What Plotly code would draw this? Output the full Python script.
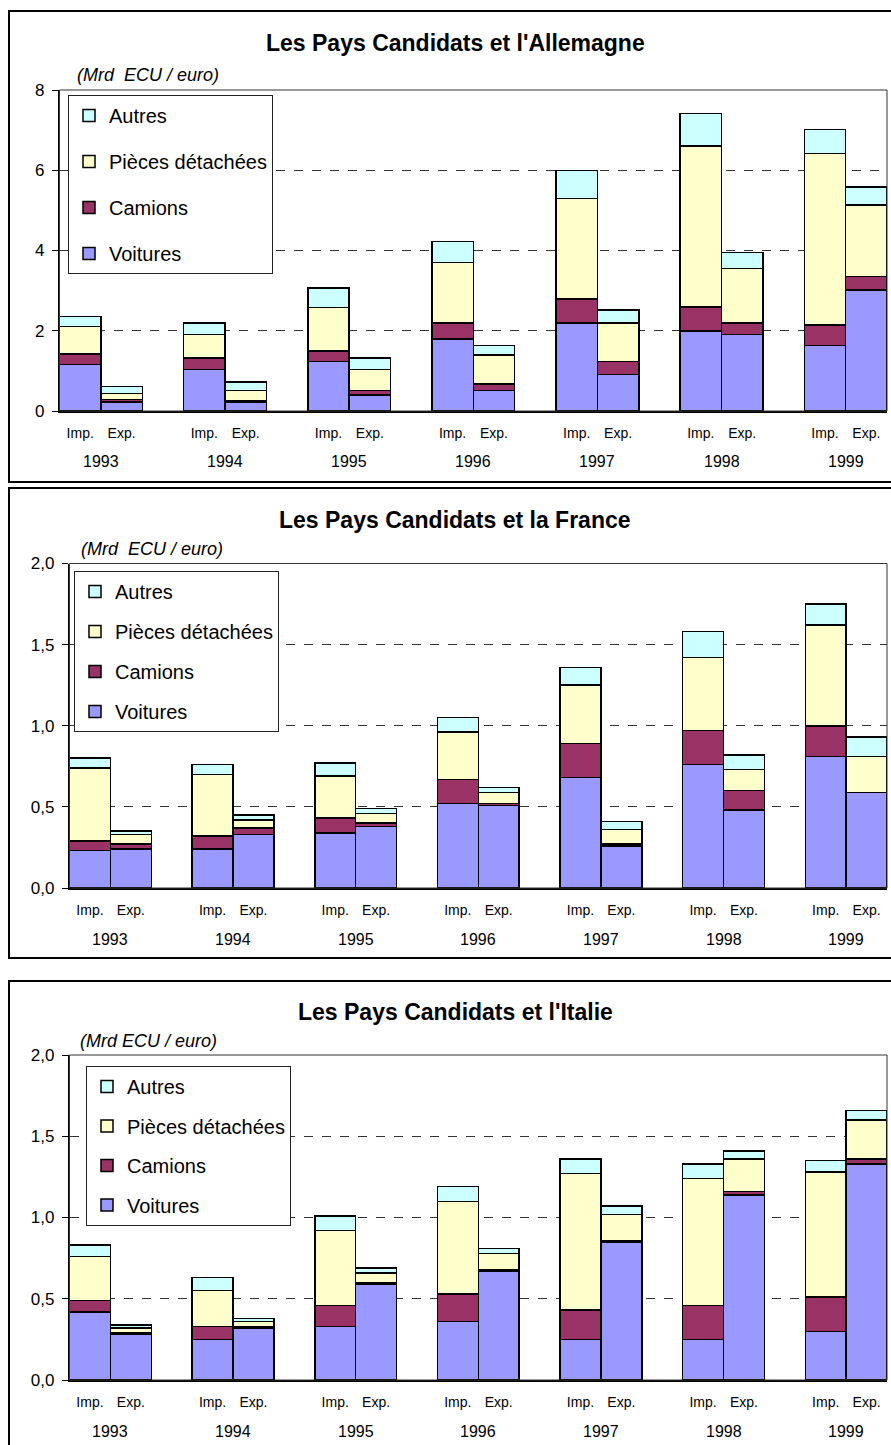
import plotly.graph_objects as go

# ---------------- data ----------------
years = ["1993", "1994", "1995", "1996", "1997", "1998", "1999"]
flow_labels = ["Imp.", "Exp."]
categories = ["Voitures", "Camions", "Pièces détachées", "Autres"]
colors = ["#9999FF", "#993366", "#FFFFCC", "#CCFFFF"]

titles = ["Les Pays Candidats et l'Allemagne",
          "Les Pays Candidats et la France",
          "Les Pays Candidats et l'Italie"]
unit_labels = ["(Mrd  ECU / euro)", "(Mrd  ECU / euro)", "(Mrd ECU / euro)"]

# Allemagne (Mrd ECU/euro)
de_imp_voitures = [1.16, 1.04, 1.23, 1.79, 2.19, 1.99, 1.63]
de_imp_camions  = [0.26, 0.28, 0.27, 0.40, 0.60, 0.60, 0.51]
de_imp_pieces   = [0.68, 0.59, 1.08, 1.51, 2.51, 4.02, 4.28]
de_imp_autres   = [0.25, 0.28, 0.49, 0.52, 0.69, 0.81, 0.60]
de_exp_voitures = [0.23, 0.22, 0.40, 0.51, 0.91, 1.91, 3.02]
de_exp_camions  = [0.06, 0.04, 0.11, 0.16, 0.32, 0.28, 0.33]
de_exp_pieces   = [0.15, 0.25, 0.52, 0.72, 0.96, 1.36, 1.78]
de_exp_autres   = [0.17, 0.21, 0.29, 0.24, 0.33, 0.40, 0.45]

# France
fr_imp_voitures = [0.23, 0.24, 0.34, 0.52, 0.68, 0.76, 0.81]
fr_imp_camions  = [0.06, 0.08, 0.09, 0.15, 0.21, 0.21, 0.19]
fr_imp_pieces   = [0.45, 0.38, 0.26, 0.29, 0.36, 0.45, 0.62]
fr_imp_autres   = [0.06, 0.06, 0.08, 0.09, 0.11, 0.16, 0.13]
fr_exp_voitures = [0.24, 0.33, 0.38, 0.51, 0.26, 0.48, 0.59]
fr_exp_camions  = [0.03, 0.04, 0.02, 0.01, 0.01, 0.12, 0.00]
fr_exp_pieces   = [0.06, 0.05, 0.06, 0.07, 0.09, 0.13, 0.22]
fr_exp_autres   = [0.02, 0.03, 0.03, 0.03, 0.05, 0.09, 0.12]

# Italie
it_imp_voitures = [0.42, 0.25, 0.33, 0.36, 0.25, 0.25, 0.30]
it_imp_camions  = [0.07, 0.08, 0.13, 0.17, 0.18, 0.21, 0.21]
it_imp_pieces   = [0.27, 0.22, 0.46, 0.57, 0.84, 0.78, 0.77]
it_imp_autres   = [0.07, 0.08, 0.09, 0.09, 0.09, 0.09, 0.07]
it_exp_voitures = [0.28, 0.32, 0.59, 0.67, 0.85, 1.14, 1.33]
it_exp_camions  = [0.01, 0.01, 0.01, 0.01, 0.01, 0.02, 0.03]
it_exp_pieces   = [0.03, 0.03, 0.06, 0.10, 0.16, 0.20, 0.24]
it_exp_autres   = [0.02, 0.02, 0.03, 0.03, 0.05, 0.05, 0.06]

panels_imp = [
    [de_imp_voitures, de_imp_camions, de_imp_pieces, de_imp_autres],
    [fr_imp_voitures, fr_imp_camions, fr_imp_pieces, fr_imp_autres],
    [it_imp_voitures, it_imp_camions, it_imp_pieces, it_imp_autres],
]
panels_exp = [
    [de_exp_voitures, de_exp_camions, de_exp_pieces, de_exp_autres],
    [fr_exp_voitures, fr_exp_camions, fr_exp_pieces, fr_exp_autres],
    [it_exp_voitures, it_exp_camions, it_exp_pieces, it_exp_autres],
]

# ---------------- layout geometry (page pixels) ----------------
W, H = 891, 1445
FONT = "Liberation Sans, Arial, sans-serif"


def px(x):
    return x / W


def py(y):
    return 1 - y / H


# plot areas: (left, right, top, bottom)
plot_boxes = [(59.5, 887, 90, 411), (69.5, 887, 563.5, 888), (69.5, 887, 1055, 1380)]
frames = [(9, 11, 482), (9, 488, 958), (9, 981, 1470)]
title_pos = [(455, 43), (455, 520), (455, 1012)]
unit_pos = [(75, 75), (79, 549), (78, 1041)]
legend_pos = [(68, 95, 17), (74, 571, 11), (86, 1066, 10.5)]
y_ranges = [(0, 8, 2, "d"), (0, 2, 0.5, ".1f"), (0, 2, 0.5, ".1f")]

# x positions: Imp / Exp pairs with a gap between years
x_imp = [3 * i + 0.5 for i in range(len(years))]
x_exp = [3 * i + 1.5 for i in range(len(years))]
x_all = []
for a, b in zip(x_imp, x_exp):
    x_all += [a, b]
tick_text = []
for _ in years:
    tick_text += flow_labels

fig = go.Figure()
shapes = []
annotations = []
layout_extra = {}

for k in range(3):
    n = "" if k == 0 else str(k + 1)
    xa, ya = "x" + n, "y" + n
    leg = "legend" + n
    for c, cat in enumerate(categories):
        vals = []
        for vi, ve in zip(panels_imp[k][c], panels_exp[k][c]):
            vals += [vi, ve]
        fig.add_trace(go.Bar(
            x=x_all, y=vals, width=1.0, name=cat,
            marker=dict(color=colors[c], line=dict(color="black", width=1.5)),
            xaxis=xa, yaxis=ya, legend=leg, legendgroup=f"p{k}_{c}",
            legendrank=100 * (len(categories) - c), showlegend=True,
        ))

    l, r, t, b = plot_boxes[k]
    y0, y1, dt, fmt = y_ranges[k]
    layout_extra["xaxis" + n] = dict(
        domain=[px(l), px(r)], range=[0, 3 * len(years) - 1], anchor=ya,
        tickvals=x_all, ticktext=tick_text, ticks="", showgrid=False,
        showline=True, linecolor="black", linewidth=2, zeroline=False,
        tickfont=dict(family=FONT, size=14, color="black"),
        ticklabelstandoff=8, fixedrange=True, automargin=False,
    )
    layout_extra["yaxis" + n] = dict(
        domain=[py(b), py(t)], range=[y0, y1], dtick=dt, tick0=0, anchor=xa,
        tickformat=fmt, ticks="outside", ticklen=6, tickcolor="black", tickwidth=1,
        showline=True, linecolor="black", linewidth=1.5, zeroline=False,
        showgrid=True, gridcolor="#333333", griddash="dash", gridwidth=1,
        tickfont=dict(family=FONT, size=17, color="black"),
        ticklabelstandoff=4, fixedrange=True, automargin=False,
    )
    lx, ly, gap = legend_pos[k]
    layout_extra[leg] = dict(
        x=px(lx), y=py(ly), xanchor="left", yanchor="top",
        bgcolor="white", bordercolor="#222222", borderwidth=1,
        font=dict(family=FONT, size=20, color="black"),
        traceorder="grouped", tracegroupgap=gap,
        itemclick=False, itemdoubleclick=False,
    )
    # plot area border
    shapes.append(dict(type="rect", xref=xa + " domain", yref=ya + " domain",
                       x0=0, x1=1, y0=0, y1=1, line=dict(color="#333333", width=1),
                       fillcolor="rgba(0,0,0,0)", layer="above"))
    # panel frame
    fx, ft, fb = frames[k]
    shapes.append(dict(type="rect", xref="paper", yref="paper",
                       x0=px(fx), x1=px(910), y0=py(fb), y1=py(ft),
                       line=dict(color="black", width=2), fillcolor="rgba(0,0,0,0)"))
    # title
    tx, ty = title_pos[k]
    annotations.append(dict(text="<b>" + titles[k] + "</b>", xref="paper", yref="paper",
                            x=px(tx), y=py(ty), xanchor="center", yanchor="middle",
                            showarrow=False, font=dict(family=FONT, size=23, color="black")))
    ux, uy = unit_pos[k]
    annotations.append(dict(text="<i>" + unit_labels[k] + "</i>", xref="paper", yref="paper",
                            x=px(ux), y=py(uy), xanchor="left", yanchor="middle",
                            showarrow=False, font=dict(family=FONT, size=18, color="black")))
    # year labels under each pair
    for i, yr in enumerate(years):
        annotations.append(dict(text=yr, xref=xa, yref=ya + " domain",
                                x=(x_imp[i] + x_exp[i]) / 2, y=0, yanchor="middle",
                                xanchor="center", yshift=-51, showarrow=False,
                                font=dict(family=FONT, size=16, color="black")))

fig.update_layout(
    autosize=True, margin=dict(l=0, r=0, t=0, b=0, autoexpand=False),
    paper_bgcolor="white", plot_bgcolor="white",
    barmode="stack", separators=", ",
    shapes=shapes, annotations=annotations, **layout_extra,
)

# the graph div is pinned to the page's top-left corner so the body margin
# does not shift or overflow the 891x1445 figure
fig.write_html(
    "out.html",
    config={"displayModeBar": False},
    default_width=f"{W}px",
    default_height=f"{H}px; position:absolute; left:0px; top:0px",
)
